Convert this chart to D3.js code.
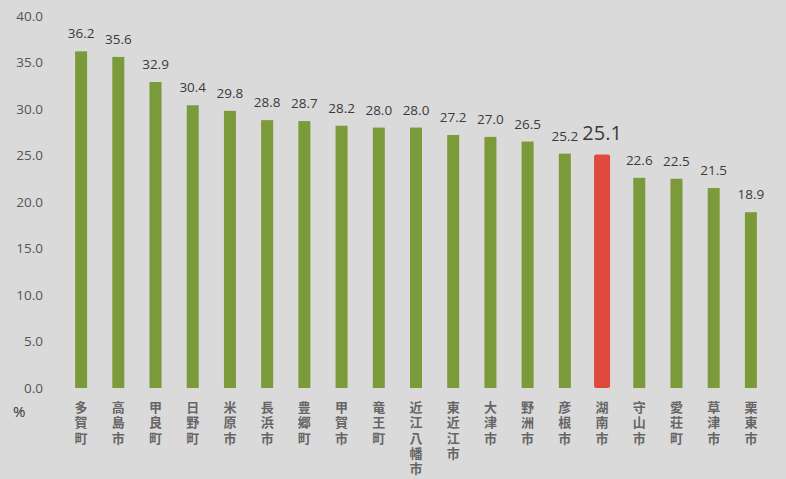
<!DOCTYPE html>
<html>
<head>
<meta charset="utf-8">
<script src="https://cdn.jsdelivr.net/npm/d3@7"></script>
<style>
  html, body { margin: 0; padding: 0; background: #dadada; }
  svg { display: block; }
  .tick-label { font-family: "Open Sans", "Noto Sans", sans-serif; font-size: 13.5px; fill: #555; }
  .val { font-family: "Open Sans", "Noto Sans", sans-serif; font-size: 13.5px; fill: #3a3a3a; }
  .cat { font-family: "Noto Sans CJK JP", sans-serif; font-size: 13px; font-weight: bold; fill: #666; }
</style>
</head>
<body>
<svg id="chart" width="786" height="479"></svg>
<script>
// municipalities (vertical labels), values in %
const towns = ['多賀町','高島市','甲良町','日野町','米原市','長浜市','豊郷町','甲賀市','竜王町','近江八幡市',
  '東近江市','大津市','野洲市','彦根市','湖南市','守山市','愛荘町','草津市','栗東市'];
const values = [36.2, 35.6, 32.9, 30.4, 29.8, 28.8, 28.7, 28.2, 28.0, 28.0,
  27.2, 27.0, 26.5, 25.2, 25.1, 22.6, 22.5, 21.5, 18.9];
const highlight = '湖南市';
const yTicks = [0, 5, 10, 15, 20, 25, 30, 35, 40];

const svg = d3.select('#chart');
const x = d3.scaleBand().domain(towns).range([62.5, 769.5]).paddingInner(0).paddingOuter(0);
const y = d3.scaleLinear().domain([0, 40]).range([388, 16]);

// y tick labels (no axis line drawn in the original)
svg.append('g').selectAll('text').data(yTicks).join('text')
  .attr('class', 'tick-label')
  .attr('x', 43).attr('y', d => y(d))
  .attr('dy', '0.35em')
  .attr('text-anchor', 'end')
  .text(d => d.toFixed(1));

svg.append('text').attr('class', 'tick-label')
  .attr('x', 13).attr('y', 417)
  .style('font-size', '15px').style('fill', '#333')
  .text('%');

const data = towns.map((t, i) => ({ t, v: values[i], hi: t === highlight }));

svg.append('g').selectAll('rect').data(data).join('rect')
  .attr('x', d => x(d.t) + x.bandwidth() / 2 - (d.hi ? 8 : 6))
  .attr('width', d => d.hi ? 16 : 12)
  .attr('y', d => y(d.v))
  .attr('height', d => y(0) - y(d.v))
  .attr('rx', d => d.hi ? 2 : 0)
  .attr('fill', d => d.hi ? '#e04a3c' : '#7b9a3a');

svg.append('g').selectAll('text').data(data).join('text')
  .attr('class', 'val')
  .attr('x', d => x(d.t) + x.bandwidth() / 2)
  .attr('y', d => y(d.v) - (d.hi ? 15 : 13))
  .attr('text-anchor', 'middle')
  .style('font-size', d => d.hi ? '20px' : null)
  .text(d => d.v.toFixed(1));

// vertical category labels, one character per line
const cats = svg.append('g').selectAll('g').data(data).join('g');
cats.each(function(d) {
  const cx = x(d.t) + x.bandwidth() / 2;
  d3.select(this).selectAll('text').data(Array.from(d.t)).join('text')
    .attr('class', 'cat')
    .attr('text-anchor', 'middle')
    .attr('x', cx)
    .attr('y', (c, i) => 412 + i * 15.3)
    .text(c => c);
});
</script>
</body>
</html>
